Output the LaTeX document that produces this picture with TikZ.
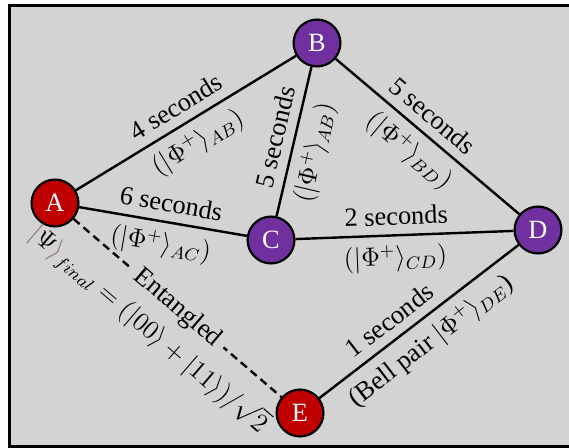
\documentclass[tikz,border=0pt,12pt]{standalone}
\usepackage{fontspec}
\setmainfont{Liberation Serif}
\usepackage{amsmath,amssymb}
\usepackage{xcolor}
\usetikzlibrary{positioning}

\definecolor{bggray}{RGB}{211,211,211}
\definecolor{nodered}{RGB}{192,0,0}
\definecolor{nodepurple}{RGB}{112,48,160}
\definecolor{ketbrown}{RGB}{140,110,110}

\begin{document}
\begin{tikzpicture}[
  x=0.016cm, y=-0.016cm,
  font=\fontsize{12}{14}\selectfont,
  link/.style={line width=1.1pt, draw=black},
  entlink/.style={link, dash pattern=on 3.6pt off 2.3pt},
  station/.style={circle, draw=black, line width=1pt, minimum size=0.75cm, inner sep=0pt, text=white},
  endnode/.style={station, fill=nodered},
  relay/.style={station, fill=nodepurple}
]
\useasboundingbox (0,0) rectangle (569,448);
\draw[line width=1.4pt, fill=bggray] (9.5,5.7) rectangle (576,446.7);

% Network nodes
\node[endnode] (A) at (55,203) {A};
\node[relay] (B) at (317,43) {B};
\node[relay] (C) at (271,240) {C};
\node[relay] (D) at (538,230) {D};
\node[endnode] (E) at (300,413) {E};

% Links with timing
\draw[link] (A) -- node[above, sloped] {4 seconds}
  node[below, sloped] {$(|\Phi^+\rangle_{AB})$} (B);
\draw[link] (B) -- node[above, sloped] {5 seconds}
  node[below, sloped, pos=0.54] {$(|\Phi^+\rangle_{AB})$} (C);
\draw[link] (B) -- node[above, sloped, pos=0.46] {5 seconds}
  node[below, sloped, pos=0.48] {$(|\Phi^+\rangle_{BD})$} (D);
\draw[link] (A) -- node[above, sloped, pos=0.53] {6 seconds}
  node[below, sloped, pos=0.51] {$(|\Phi^+\rangle_{AC})$} (C);
\draw[link] (C) -- node[above, sloped, pos=0.465] {2 seconds}
  node[below, sloped, pos=0.455] {$(|\Phi^+\rangle_{CD})$} (D);
\draw[link] (E) -- node[above, sloped, pos=0.41] {1 seconds}
  node[below, sloped, pos=0.49] {(Bell pair $|\Phi^+\rangle_{DE}$)} (D);

% End-to-end entanglement
\draw[entlink] (A) -- node[sloped, fill=bggray, inner sep=3.2pt] {Entangled}
  node[below=4pt, sloped, pos=0.47] {${\color{ketbrown}|}\Psi{\color{ketbrown}\rangle}_{final} = (|00\rangle + |11\rangle)/\sqrt{2}$} (E);
\end{tikzpicture}
\end{document}
